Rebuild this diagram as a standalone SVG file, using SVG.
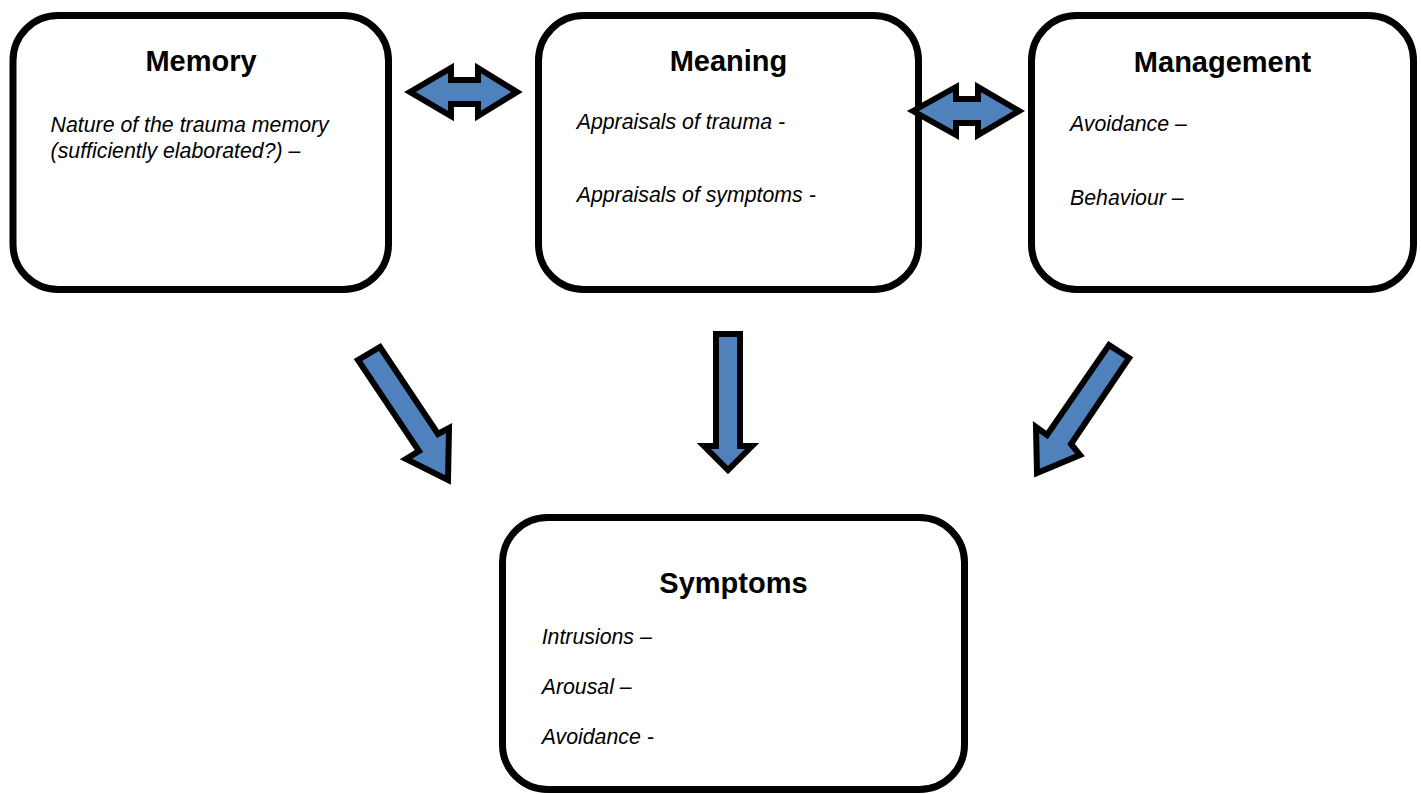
<svg xmlns="http://www.w3.org/2000/svg" width="1421" height="794" viewBox="0 0 1421 794">
<style>
.box{fill:#ffffff;stroke:#000000;stroke-width:7}
.title{font-family:"Liberation Sans",Arial,sans-serif;font-weight:bold;font-size:29px;fill:#000000;text-anchor:middle}
.body{font-family:"Liberation Sans",Arial,sans-serif;font-style:italic;font-size:21.3px;fill:#000000}
.arrow{fill:#4F81BD;stroke:#000000;stroke-width:6;stroke-linejoin:miter;stroke-miterlimit:10}
</style>
<rect x="0" y="0" width="1421" height="794" fill="#ffffff"/>
<g id="memory">
<rect class="box" x="13" y="15.5" width="375.5" height="274" rx="45" ry="45"/>
<text class="title" x="201" y="71">Memory</text>
<text class="body" x="50.6" y="132">Nature of the trauma memory</text>
<text class="body" x="50.6" y="157.5">(sufficiently elaborated?) –</text>
</g>
<g id="meaning">
<rect class="box" x="538.5" y="15.5" width="380" height="274" rx="45" ry="45"/>
<text class="title" x="728.5" y="71">Meaning</text>
<text class="body" x="576.7" y="129">Appraisals of trauma -</text>
<text class="body" x="576.7" y="202">Appraisals of symptoms -</text>
</g>
<g id="management">
<rect class="box" x="1031.5" y="15.5" width="382" height="274" rx="45" ry="45"/>
<text class="title" x="1222.5" y="72">Management</text>
<text class="body" x="1070" y="131">Avoidance –</text>
<text class="body" x="1070" y="205">Behaviour –</text>
</g>
<g id="symptoms">
<rect class="box" x="502.5" y="517.5" width="462" height="272" rx="45" ry="45"/>
<text class="title" x="733.5" y="593">Symptoms</text>
<text class="body" x="541.7" y="644">Intrusions –</text>
<text class="body" x="541.7" y="693.5">Arousal –</text>
<text class="body" x="541.7" y="743.5">Avoidance -</text>
</g>
<g id="connectors">
<path class="arrow" d="M410,92 L451,68 L451,80 L478,80 L478,68 L517,92 L478,116 L478,104 L451,104 L451,116 Z"/>
<path class="arrow" d="M913,111 L956,87 L956,99 L978,99 L978,87 L1019,111 L978,135 L978,123 L956,123 L956,135 Z"/>
<path class="arrow" d="M358,360 L380,347 L438,434 L449,428 L448,480 L406,459 L419,451 Z"/>
<path class="arrow" d="M716,334 L740,334 L740,446 L752,446 L728,470 L704,446 L716,446 Z"/>
<path class="arrow" d="M1109,345 L1129,358 L1071,444 L1080,455 L1037,473 L1036,427 L1047,435 Z"/>
</g>
</svg>
